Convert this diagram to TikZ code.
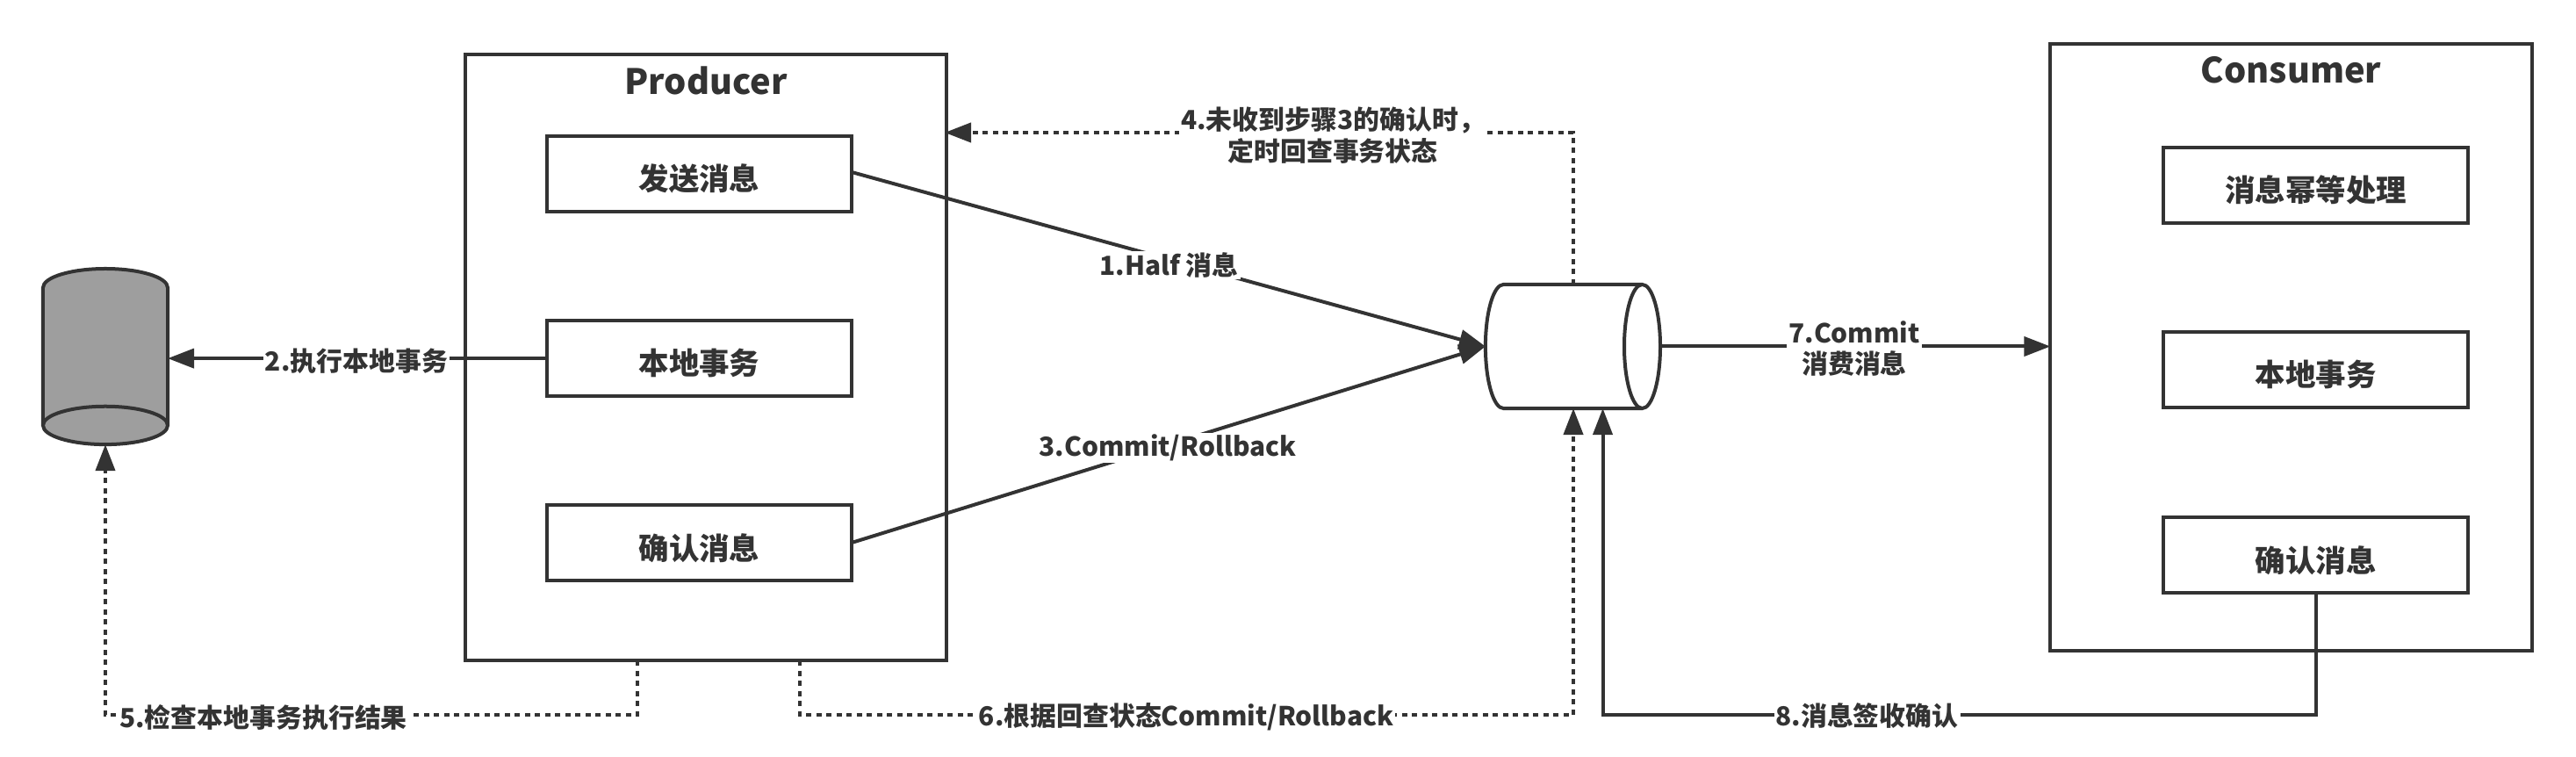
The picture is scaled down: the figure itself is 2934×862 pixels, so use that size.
\documentclass[tikz,border=0pt]{standalone}
\usepackage{fontspec}
\setmainfont{Noto Sans CJK SC}
\usepackage{xcolor}
\definecolor{colLine}{HTML}{333333}
\definecolor{colDisk}{HTML}{9E9E9E}
\usetikzlibrary{arrows.meta, positioning, shapes.geometric, calc}
\tikzset{
    stage/.style={draw=colLine, line width=0.04cm, outer sep=0pt, minimum width=5.48cm, minimum height=6.9cm},
    stepbox/.style={draw=colLine, line width=0.04cm, outer sep=0pt, minimum width=3.47cm, minimum height=0.86cm,
                    text=colLine, text height=0.44cm, text depth=0.064cm,
                    font=\fontsize{9.8pt}{12pt}\selectfont\bfseries},
    stagetitle/.style={text=colLine, font=\fontsize{11.3pt}{14pt}\selectfont\bfseries},
    steplabel/.style={fill=white, text=colLine, inner sep=0.02cm, align=center,
                      font=\fontsize{8.5pt}{10.2pt}\selectfont\bfseries},
    flow/.style={draw=colLine, line width=0.04cm, -{Triangle[length=0.3cm,width=0.22cm]}},
    flowdot/.style={flow, dash pattern=on 0.06cm off 0.055cm},
    store/.style={cylinder, draw=colLine, line width=0.04cm, outer sep=0pt, cylinder uses custom fill}
}
\begin{document}
\begin{tikzpicture}[x=0.01cm, y=-0.01cm]
    \useasboundingbox (0,0) rectangle (2934,862);
    % Producer
    \node[stage] (producer) at (804,407) {};
    \node[stagetitle, below=0.02cm of producer.north] (producertitle) {Producer};
    \node[stepbox] (send) at (796.5,198) {发送消息};
    \node[stepbox, below=1.24cm of send] (local) {本地事务};
    \node[stepbox, below=1.24cm of local] (confirm) {确认消息};
    % Consumer
    \node[stage] (consumer) at (2609.5,395.5) {};
    \node[stagetitle, below=0.02cm of consumer.north] (consumertitle) {Consumer};
    \node[stepbox] (idem) at (2637.5,211) {消息幂等处理};
    \node[stepbox, below=1.24cm of idem] (clocal) {本地事务};
    \node[stepbox, below=1.25cm of clocal] (cconfirm) {确认消息};
    % Stores
    \node[store, shape border rotate=270, aspect=1.85, minimum width=1.42cm, minimum height=2cm,
          anchor=north, cylinder body fill=colDisk, cylinder end fill=colDisk] (db) at (120,306) {};
    \node[store, aspect=1.75, minimum width=1.41cm, minimum height=1.99cm,
          anchor=east, cylinder body fill=white, cylinder end fill=white] (queue) at (1891,394.5) {};
    % Free ends
    \coordinate (halfout) at (970,196);
    \coordinate (commitout) at (970,618);
    \coordinate (checkup) at (1792,324);
    \coordinate (checkin) at (1076,151);
    \coordinate (localout) at (726,752);
    \coordinate (stateout) at (911,752);
    \coordinate (statein) at (1792,465);
    \coordinate (ackin) at (1825.5,465);
    % Arrows
    \draw[flow] (halfout) -- (queue.west);
    \draw[flow] (commitout) -- (queue.west);
    \draw[flow] (local.west) -- (local.west -| db.east);
    \draw[flow] (queue.east) -- (queue.east -| consumer.west);
    \draw[flowdot] (checkup) |- (checkin);
    \draw[flowdot] (localout) -- ++(0,62) -| (db.south);
    \draw[flowdot] (stateout) -- ++(0,62) -| (statein);
    \draw[flow] (cconfirm.south) -- ++(0,139) -| (ackin);
    % Labels
    \node[steplabel] (halflabel) at (1331.5,302) {1.Half 消息};
    \node[steplabel] (execlabel) at (406,411) {2.执行本地事务};
    \node[steplabel] (commitlabel) at (1330,510) {3.Commit/Rollback};
    \node[steplabel] (checklabel) at (1518,154) {4.未收到步骤3的确认时，\\定时回查事务状态};
    \node[steplabel] (resultlabel) at (300,817) {5.检查本地事务执行结果};
    \node[steplabel] (statelabel) at (1351,816) {6.根据回查状态Commit/Rollback};
    \node[steplabel] (consumelabel) at (2112,397) {7.Commit\\消费消息};
    \node[steplabel] (acklabel) at (2126.5,815) {8.消息签收确认};
\end{tikzpicture}
\end{document}
